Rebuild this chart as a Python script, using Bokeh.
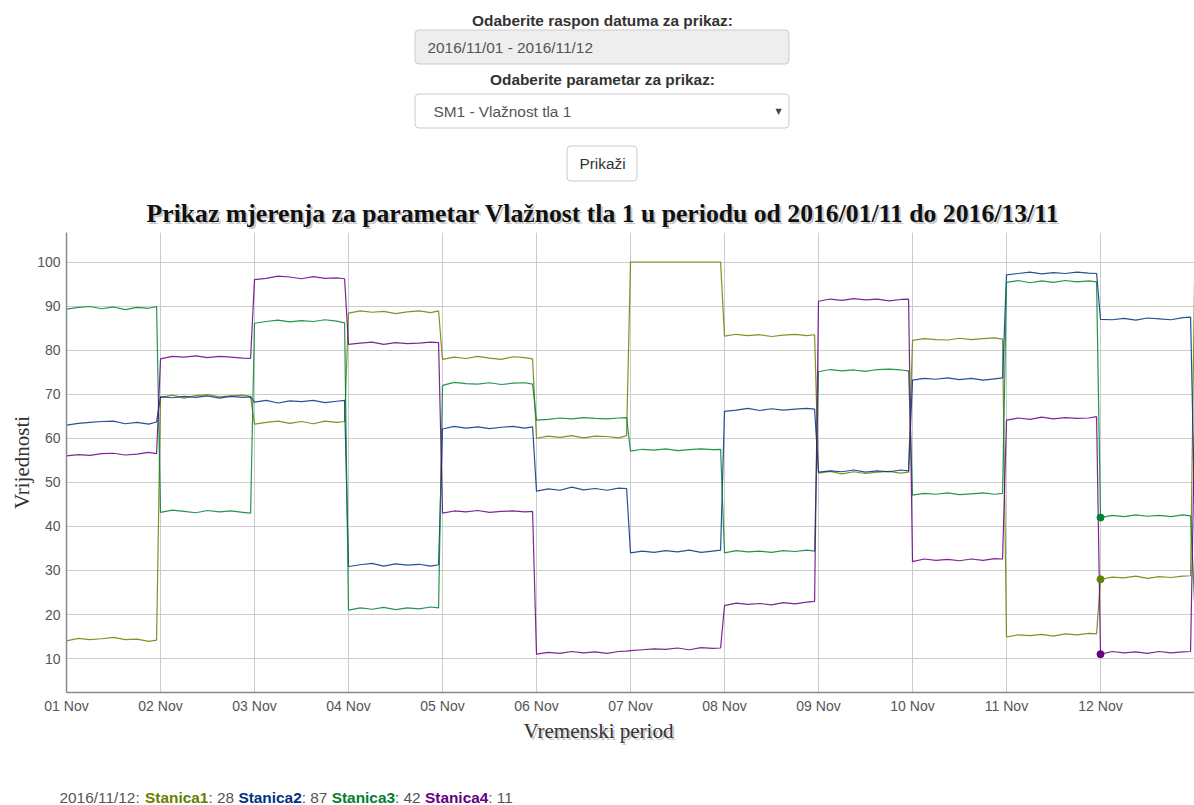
from math import pi
import pandas as pd
from bokeh.plotting import figure
from bokeh.layouts import column, row
from bokeh.models import Range1d, FixedTicker, DatetimeTickFormatter, Label, ColumnDataSource
from bokeh.embed import file_html
from bokeh.resources import INLINE

# ---------------- data ----------------
DAYS = ["2016-11-01", "2016-11-02", "2016-11-03", "2016-11-04", "2016-11-05", "2016-11-06",
        "2016-11-07", "2016-11-08", "2016-11-09", "2016-11-10", "2016-11-11", "2016-11-12"]
SAMPLE_HOURS = [0, 3, 6, 9, 12, 15, 18, 21, 23]
LAST_TIME = "2016-11-13 00:00"
Y_TICKS = [10, 20, 30, 40, 50, 60, 70, 80, 90, 100]
STATIONS = ["Stanica1", "Stanica2", "Stanica3", "Stanica4"]
COLORS = ["#668000", "#003380", "#008033", "#660080"]

STANICA1 = [
    [14.0, 14.6, 14.3, 14.5, 14.8, 14.3, 14.4, 13.9, 14.2],
    [69.3, 69.8, 69.1, 69.7, 69.9, 69.4, 69.6, 69.8, 69.5],
    [63.2, 63.6, 63.9, 63.4, 63.8, 63.3, 63.9, 63.6, 63.8],
    [88.4, 88.9, 88.6, 88.8, 88.3, 88.7, 88.9, 88.5, 88.9],
    [77.9, 78.4, 78.1, 78.6, 78.2, 77.9, 78.5, 78.3, 78.0],
    [60.0, 60.5, 60.2, 60.6, 60.1, 60.5, 60.4, 60.1, 60.6],
    [100.0, 100.0, 100.0, 100.0, 100.0, 100.0, 100.0, 100.0, 100.0],
    [83.2, 83.6, 83.3, 83.5, 83.1, 83.4, 83.6, 83.3, 83.5],
    [52.1, 52.5, 51.9, 52.4, 52.0, 52.3, 52.5, 52.1, 52.3],
    [82.2, 82.6, 82.4, 82.3, 82.7, 82.4, 82.6, 82.8, 82.5],
    [14.9, 15.4, 15.2, 15.5, 15.1, 15.6, 15.4, 15.7, 15.6],
    [28.0, 28.5, 28.3, 28.7, 28.2, 28.6, 28.4, 28.7, 28.8],
]
STANICA1_LAST = 95.3

STANICA2 = [
    [63.0, 63.4, 63.6, 63.8, 63.9, 63.3, 63.6, 63.2, 63.7],
    [69.4, 69.2, 69.5, 69.3, 69.6, 69.1, 69.5, 69.3, 69.4],
    [68.2, 68.6, 68.0, 68.5, 68.3, 68.6, 68.1, 68.4, 68.6],
    [30.9, 31.3, 31.6, 31.0, 31.5, 31.2, 31.4, 31.0, 31.3],
    [62.1, 62.7, 62.3, 62.6, 62.2, 62.5, 62.7, 62.3, 62.6],
    [48.0, 48.5, 48.2, 48.9, 48.3, 48.6, 48.2, 48.7, 48.6],
    [34.0, 34.4, 34.1, 34.5, 34.2, 34.6, 34.1, 34.4, 34.6],
    [66.1, 66.4, 66.8, 66.3, 66.7, 66.4, 66.6, 66.8, 66.6],
    [52.3, 52.6, 52.4, 52.8, 52.3, 52.6, 52.4, 52.8, 52.6],
    [73.2, 73.6, 73.4, 73.7, 73.3, 73.6, 73.2, 73.5, 73.7],
    [97.1, 97.4, 97.7, 97.3, 97.6, 97.4, 97.7, 97.5, 97.4],
    [87.0, 86.9, 87.2, 86.8, 87.3, 87.1, 86.9, 87.4, 87.5],
]
STANICA2_LAST = 45.0

STANICA3 = [
    [89.3, 89.7, 89.9, 89.4, 89.8, 89.2, 89.7, 89.5, 89.9],
    [43.2, 43.7, 43.4, 43.1, 43.6, 43.3, 43.5, 43.2, 43.0],
    [86.1, 86.5, 86.8, 86.4, 86.7, 86.5, 86.9, 86.6, 86.2],
    [21.0, 21.5, 21.2, 21.6, 21.1, 21.5, 21.3, 21.7, 21.5],
    [72.0, 72.7, 72.4, 72.3, 72.6, 72.2, 72.5, 72.6, 72.3],
    [64.1, 64.3, 64.6, 64.4, 64.7, 64.5, 64.4, 64.6, 64.7],
    [57.1, 57.5, 57.3, 57.6, 57.2, 57.4, 57.6, 57.4, 57.5],
    [34.0, 34.5, 34.2, 34.4, 34.1, 34.5, 34.3, 34.6, 34.4],
    [75.1, 75.6, 75.3, 75.5, 75.2, 75.6, 75.7, 75.5, 75.3],
    [47.1, 47.5, 47.3, 47.6, 47.2, 47.4, 47.6, 47.3, 47.5],
    [95.4, 95.8, 95.3, 95.7, 95.4, 95.8, 95.5, 95.7, 95.5],
    [42.0, 42.5, 42.2, 42.6, 42.3, 42.5, 42.2, 42.6, 42.4],
]
STANICA3_LAST = 23.0

STANICA4 = [
    [56.0, 56.3, 56.1, 56.5, 56.6, 56.2, 56.4, 56.8, 56.5],
    [78.0, 78.6, 78.4, 78.7, 78.3, 78.6, 78.4, 78.2, 78.1],
    [96.0, 96.3, 96.8, 96.6, 96.2, 96.7, 96.3, 96.4, 96.2],
    [81.3, 81.6, 81.8, 81.3, 81.7, 81.5, 81.6, 81.8, 81.7],
    [43.0, 43.5, 43.3, 43.6, 43.2, 43.4, 43.5, 43.3, 43.4],
    [11.0, 11.4, 11.2, 11.6, 11.3, 11.5, 11.2, 11.6, 11.7],
    [11.8, 12.0, 12.2, 12.1, 12.4, 12.0, 12.5, 12.3, 12.4],
    [22.0, 22.6, 22.3, 22.5, 22.2, 22.7, 22.4, 22.8, 23.0],
    [91.1, 91.6, 91.3, 91.7, 91.4, 91.6, 91.2, 91.5, 91.6],
    [32.0, 32.6, 32.3, 32.5, 32.2, 32.6, 32.3, 32.7, 32.6],
    [64.1, 64.6, 64.3, 64.8, 64.4, 64.7, 64.5, 64.6, 64.9],
    [11.0, 11.6, 11.3, 11.5, 11.2, 11.6, 11.3, 11.5, 11.6],
]
STANICA4_LAST = 61.0

SERIES = [(STANICA1, STANICA1_LAST), (STANICA2, STANICA2_LAST),
          (STANICA3, STANICA3_LAST), (STANICA4, STANICA4_LAST)]
HIGHLIGHT_DAY = 11           # 2016/11/12 00:00
HIGHLIGHT_SHOWN = [0, 2, 3]  # dots visible in the reference

def ms(ts):
    return pd.Timestamp(ts).value / 1e6

times = [ms(pd.Timestamp(d) + pd.Timedelta(hours=h)) for d in DAYS for h in SAMPLE_HOURS] + [ms(LAST_TIME)]
day_ticks = [ms(d) for d in DAYS]

W = 1194
LEFT = 66
SANS = "Liberation Sans"
SERIF = "Liberation Serif"

def add_text(fig, x, y, text, size="15.4px", color="#333333", style="normal", align="left",
             font=SANS, alpha=1.0, angle=0.0):
    fig.add_layout(Label(x=x, y=y, text=text, text_font=font, text_font_size=size,
                         text_font_style=style, text_color=color, text_align=align,
                         text_baseline="middle", text_alpha=alpha, angle=angle))

def shadowed(fig, x, y, text, size, style, color):
    add_text(fig, x + 2, y + 2, text, size=size, style=style, color="#888888", align="center",
             font=SERIF, alpha=0.45)
    add_text(fig, x, y, text, size=size, style=style, color=color, align="center", font=SERIF)

# ---------------- top: form + title (page pixel coordinates) ----------------
top = figure(width=W, height=232, x_range=Range1d(LEFT, W), y_range=Range1d(232, 0),
             output_backend="svg", toolbar_location=None, x_axis_location=None,
             y_axis_location=None, min_border_left=LEFT, min_border_right=0,
             min_border_top=0, min_border_bottom=0, outline_line_color=None)
top.title.visible = False
top.grid.visible = False

top.quad(left=[414.5], right=[788.5], top=[29.5], bottom=[63.5], fill_color="#eeeeee",
         line_color="#cccccc", line_width=1, border_radius=4)
top.quad(left=[414.5], right=[788.5], top=[93.5], bottom=[127.5], fill_color="#ffffff",
         line_color="#cccccc", line_width=1, border_radius=4)
top.quad(left=[566.5], right=[636.5], top=[145.5], bottom=[180.5], fill_color="#ffffff",
         line_color="#cccccc", line_width=1, border_radius=4)

add_text(top, 602, 20, "Odaberite raspon datuma za prikaz:", style="bold", align="center")
add_text(top, 427, 47, "2016/11/01 - 2016/11/12", color="#555555")
add_text(top, 602, 79, "Odaberite parametar za prikaz:", style="bold", align="center")
add_text(top, 433, 111, "SM1 - Vlažnost tla 1", color="#555555")
add_text(top, 778, 111, "▼", size="8px", color="#444444", align="center", font="DejaVu Sans")
add_text(top, 602, 163, "Prikaži", align="center")
shadowed(top, 602.5, 213,
         "Prikaz mjerenja za parametar Vlažnost tla 1 u periodu od 2016/01/11 do 2016/13/11",
         "25.7px", "bold", "#111111")

# ---------------- main chart ----------------
p = figure(width=W, height=484, x_axis_type="datetime",
           x_range=Range1d(times[0], times[-1]), y_range=Range1d(2.3, 106.7),
           output_backend="svg", toolbar_location=None,
           min_border_left=LEFT, min_border_right=0, min_border_top=0, min_border_bottom=22)
p.title.visible = False
p.outline_line_color = None

p.xaxis.ticker = FixedTicker(ticks=day_ticks)
fmt = "%d %b"
p.xaxis.formatter = DatetimeTickFormatter(microseconds=fmt, milliseconds=fmt, seconds=fmt,
                                          minsec=fmt, minutes=fmt, hourmin=fmt, hours=fmt,
                                          days=fmt, months=fmt, years=fmt)
p.yaxis.ticker = FixedTicker(ticks=Y_TICKS)
for ax in (p.xaxis, p.yaxis):
    ax.axis_line_color = "#8a8a8a"
    ax.axis_line_width = 1.5
    ax.major_tick_line_color = None
    ax.minor_tick_line_color = None
    ax.major_tick_out = 0
    ax.major_tick_in = 0
    ax.major_label_text_font = SANS
    ax.major_label_text_font_size = "14px"
    ax.major_label_text_color = "#555555"
p.yaxis.major_label_standoff = 6
p.xaxis.major_label_standoff = 5
p.yaxis.axis_label = "Vrijednosti"
p.yaxis.axis_label_text_font = SERIF
p.yaxis.axis_label_text_font_size = "21px"
p.yaxis.axis_label_text_font_style = "normal"
p.yaxis.axis_label_text_color = "#333333"
p.yaxis.axis_label_standoff = 0
p.grid.grid_line_color = "#cccccc"
p.grid.grid_line_width = 1

for (rows, last), color in zip(SERIES, COLORS):
    vals = [v for r in rows for v in r] + [last]
    src = ColumnDataSource(dict(t=times, v=vals))
    p.line("t", "v", source=src, line_color=color, line_width=1.2, line_alpha=0.85)

ht = times[HIGHLIGHT_DAY * len(SAMPLE_HOURS)]
p.scatter(x=[ht] * len(HIGHLIGHT_SHOWN),
          y=[SERIES[i][0][HIGHLIGHT_DAY][0] for i in HIGHLIGHT_SHOWN],
          color=[COLORS[i] for i in HIGHLIGHT_SHOWN], size=7)

# ---------------- bottom: x label + legend line (page pixel coordinates) ----------------
bot = figure(width=W, height=89, x_range=Range1d(0, W), y_range=Range1d(805, 716),
             output_backend="svg", toolbar_location=None, x_axis_location=None,
             y_axis_location=None, min_border=0, outline_line_color=None)
bot.title.visible = False
bot.grid.visible = False
shadowed(bot, 598, 730, "Vremenski period", "21px", "normal", "#333333")

vals_hl = [SERIES[i][0][HIGHLIGHT_DAY][0] for i in range(4)]
legend_x = [59, 144.6, 207.9, 237.9, 301.2, 331.2, 394.5, 424.5, 487.8]
pieces = [("2016/11/12:", "#555555", "normal")]
for i, name in enumerate(STATIONS):
    pieces.append((name, COLORS[i], "bold"))
    pieces.append((": %d" % round(vals_hl[i]), "#555555", "normal"))
for (txt, col, sty), x in zip(pieces, legend_x):
    add_text(bot, x, 797, txt, color=col, style=sty)

layout = column(top, p, row(bot), spacing=0)
open("out.html", "w").write(file_html(layout, INLINE))
